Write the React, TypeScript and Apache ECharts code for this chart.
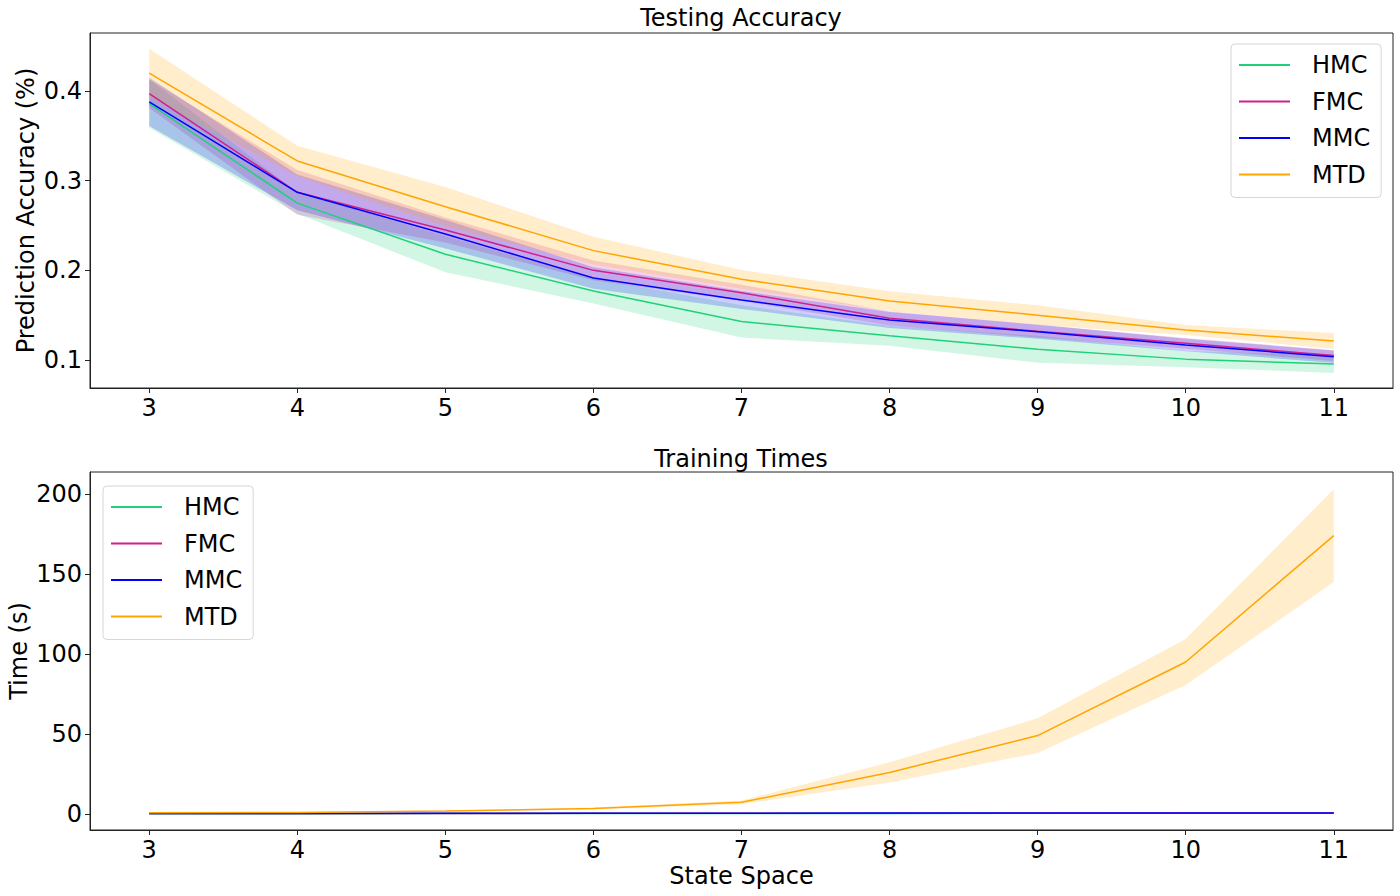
import React, { useEffect, useRef } from "react";
import * as echarts from "echarts";

const stateSpace = [3, 4, 5, 6, 7, 8, 9, 10, 11];
const modelNames = ["HMC", "FMC", "MMC", "MTD"];
const modelColors = ["#1fd17a", "#d0208c", "#0000ff", "#ffa500"];

// Testing accuracy (mean, std)
const accHMC = [0.386, 0.275, 0.218, 0.177, 0.143, 0.127, 0.112, 0.101, 0.0955];
const accHMCStd = [0.027, 0.012, 0.02, 0.014, 0.018, 0.011, 0.015, 0.009, 0.01];
const accFMC = [0.397, 0.287, 0.245, 0.2, 0.175, 0.1465, 0.132, 0.1186, 0.105];
const accFMCStd = [0.016, 0.025, 0.014, 0.011, 0.009, 0.008, 0.007, 0.006, 0.006];
const accMMC = [0.388, 0.287, 0.2405, 0.1915, 0.167, 0.1446, 0.1316, 0.1167, 0.1037];
const accMMCStd = [0.027, 0.02, 0.016, 0.012, 0.01, 0.009, 0.008, 0.007, 0.007];
const accMTD = [0.42, 0.322, 0.271, 0.222, 0.19, 0.1658, 0.15, 0.1335, 0.1212];
const accMTDStd = [0.027, 0.017, 0.022, 0.0155, 0.0104, 0.011, 0.011, 0.0055, 0.0088];

// Training times (mean, std)
const timeHMC = [0.2, 0.2, 0.25, 0.3, 0.3, 0.35, 0.4, 0.45, 0.5];
const timeHMCStd = [0.05, 0.05, 0.05, 0.05, 0.05, 0.05, 0.05, 0.05, 0.05];
const timeFMC = [0.3, 0.3, 0.35, 0.4, 0.4, 0.45, 0.5, 0.55, 0.6];
const timeFMCStd = [0.05, 0.05, 0.05, 0.05, 0.05, 0.05, 0.05, 0.05, 0.05];
const timeMMC = [0.3, 0.35, 0.4, 0.45, 0.5, 0.55, 0.6, 0.65, 0.7];
const timeMMCStd = [0.05, 0.05, 0.05, 0.05, 0.05, 0.05, 0.05, 0.05, 0.05];
const timeMTD = [0.8, 1.0, 1.8, 3.4, 7.3, 26, 49, 95, 174];
const timeMTDStd = [0.1, 0.2, 0.4, 0.6, 1.2, 6.3, 10.8, 14.4, 29];

const accYTicks = [0.1, 0.2, 0.3, 0.4];
const timeYTicks = [0, 50, 100, 150, 200];

const FONT = "DejaVu Sans";

function buildSeries(means: number[][], stds: number[][], gridIdx: number, prefix: string) {
  const lines: any[] = [];
  const bands: any[] = [];
  modelNames.forEach((name, i) => {
    const m = means[i];
    const s = stds[i];
    const color = modelColors[i];
    const lo = m.map((v, k) => v - s[k]);
    const hi = m.map((v, k) => v + s[k]);
    bands.push({
      name: prefix + name + "_band",
      type: "custom",
      xAxisIndex: gridIdx,
      yAxisIndex: gridIdx,
      data: stateSpace.map((x, k) => [x, lo[k], hi[k]]),
      encode: { x: 0, y: [1, 2] },
      z: 1,
      silent: true,
      clip: true,
      renderItem: (params: any, api: any) => {
        if (params.dataIndex !== 0) return null;
        const pts: number[][] = [];
        for (let k = 0; k < stateSpace.length; k++) pts.push(api.coord([stateSpace[k], hi[k]]));
        for (let k = stateSpace.length - 1; k >= 0; k--) pts.push(api.coord([stateSpace[k], lo[k]]));
        return {
          type: "polygon",
          shape: { points: pts },
          style: { fill: color, opacity: 0.2, stroke: "none" },
        };
      },
    });
    lines.push({
      name,
      type: "line",
      xAxisIndex: gridIdx,
      yAxisIndex: gridIdx,
      data: stateSpace.map((x, k) => [x, m[k]]),
      showSymbol: false,
      symbol: "none",
      lineStyle: { color, width: 1.5 },
      itemStyle: { color },
      z: 5,
      silent: true,
    });
  });
  return [...bands, ...lines];
}

function xAxisCfg(gridIndex: number, withName: boolean) {
  return {
    type: "value",
    gridIndex,
    min: 2.6,
    max: 11.4,
    name: withName ? "State Space" : "",
    nameLocation: "middle",
    nameGap: 34,
    nameTextStyle: { fontFamily: FONT, fontSize: 24, color: "#000" },
    axisLine: { show: true, onZero: false, lineStyle: { color: "#222", width: 1 } },
    axisTick: { show: true, length: 5, customValues: stateSpace, lineStyle: { color: "#222" } },
    axisLabel: { customValues: stateSpace, fontFamily: FONT, fontSize: 24, color: "#000", margin: 8 },
    splitLine: { show: false },
  };
}

function yAxisCfg(gridIndex: number, min: number, max: number, ticks: number[], name: string, gap: number) {
  return {
    type: "value",
    gridIndex,
    min,
    max,
    name,
    nameLocation: "middle",
    nameGap: gap,
    nameMoveOverlap: false,
    nameTextStyle: { fontFamily: FONT, fontSize: 24, color: "#000" },
    axisLine: { show: true, onZero: false, lineStyle: { color: "#222", width: 1 } },
    axisTick: { show: true, length: 5, customValues: ticks, lineStyle: { color: "#222" } },
    axisLabel: { customValues: ticks, fontFamily: FONT, fontSize: 24, color: "#000", margin: 8 },
    splitLine: { show: false },
  };
}

function legendCfg(left: number, top: number) {
  return {
    left,
    top,
    orient: "vertical",
    data: modelNames,
    icon: "rect",
    itemWidth: 51,
    itemHeight: 2,
    itemGap: 12.5,
    padding: [9, 11, 11, 8],
    backgroundColor: "#fff",
    borderColor: "#d6d6d6",
    borderWidth: 1,
    borderRadius: 4,
    selectedMode: false,
    textStyle: { fontFamily: FONT, fontSize: 24, color: "#000", lineHeight: 24, padding: [0, 0, 0, 17] },
  };
}

export default function App() {
  const ref = useRef<HTMLDivElement>(null);
  useEffect(() => {
    if (!ref.current) return;
    const chart = echarts.init(ref.current, undefined, { renderer: "svg" });
    const series = [
      ...buildSeries(
        [accHMC, accFMC, accMMC, accMTD],
        [accHMCStd, accFMCStd, accMMCStd, accMTDStd],
        0,
        "acc"
      ),
      ...buildSeries(
        [timeHMC, timeFMC, timeMMC, timeMTD],
        [timeHMCStd, timeFMCStd, timeMMCStd, timeMTDStd],
        1,
        "time"
      ),
    ];
    chart.setOption({
      animation: false,
      backgroundColor: "#fff",
      title: [
        {
          text: "Testing Accuracy",
          left: 741,
          top: 6,
          textAlign: "center",
          padding: 0,
          textStyle: { fontFamily: FONT, fontSize: 24, fontWeight: "normal", color: "#000" },
        },
        {
          text: "Training Times",
          left: 741,
          top: 447,
          textAlign: "center",
          padding: 0,
          textStyle: { fontFamily: FONT, fontSize: 24, fontWeight: "normal", color: "#000" },
        },
      ],
      grid: [
        { left: 90, top: 33, width: 1303, height: 355, outerBoundsMode: "none", containLabel: false, show: true, borderColor: "#222", borderWidth: 1, backgroundColor: "transparent" },
        { left: 90, top: 472, width: 1303, height: 358, outerBoundsMode: "none", containLabel: false, show: true, borderColor: "#222", borderWidth: 1, backgroundColor: "transparent" },
      ],
      xAxis: [xAxisCfg(0, false), xAxisCfg(1, true)],
      yAxis: [
        yAxisCfg(0, 0.0688, 0.4647, accYTicks, "Prediction Accuracy (%)", 52),
        yAxisCfg(1, -10, 213.75, timeYTicks, "Time (s)", 59),
      ],
      legend: [legendCfg(1231, 44), legendCfg(103, 486)],
      series,
    });
    return () => chart.dispose();
  }, []);
  return (
    <div
      ref={ref}
      style={{ position: "fixed", left: 0, top: 0, width: 1400, height: 896 }}
    />
  );
}
